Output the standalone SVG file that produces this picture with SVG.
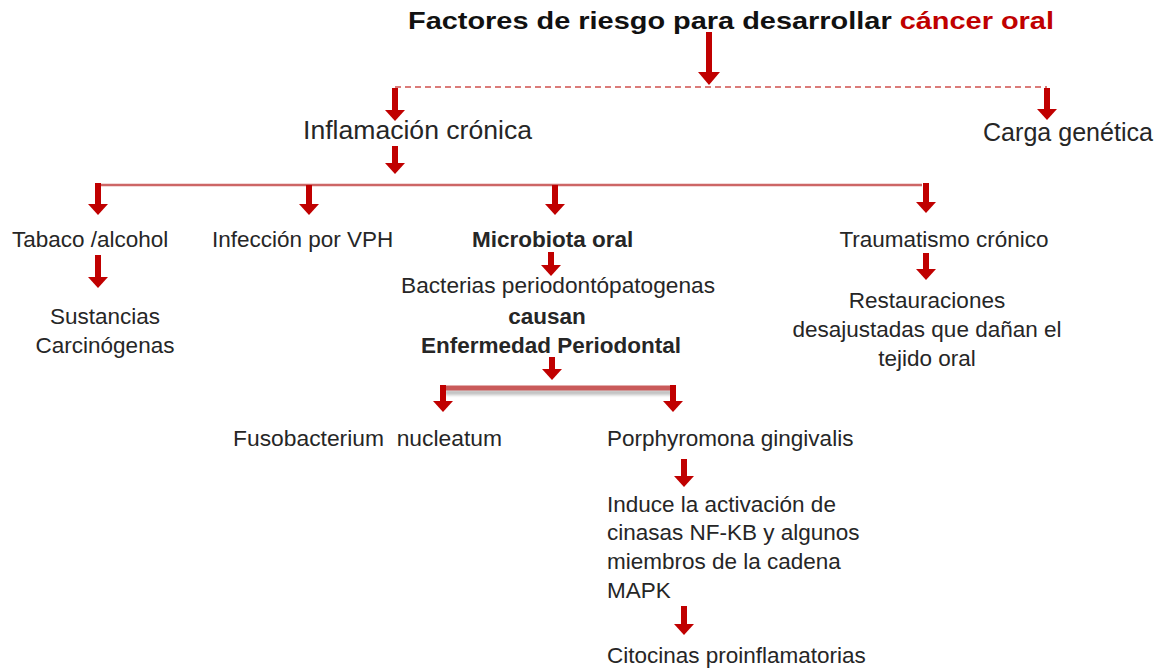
<svg xmlns="http://www.w3.org/2000/svg" width="1161" height="671" viewBox="0 0 1161 671">
<style>
.t{font-family:"Liberation Sans",Arial,sans-serif;font-size:22.5px;fill:#262626}
.b{font-weight:bold}
.big{font-size:26px}
.ttl{font-family:"Liberation Sans",Arial,sans-serif;font-size:24px;font-weight:bold;fill:#111}
.red{fill:#c00000}
.arr{stroke:#c00000;stroke-width:6;fill:none;marker-end:url(#head)}
.arrL{stroke:#c00000;stroke-width:6;fill:none;marker-end:url(#headL)}
.hl{stroke:#cd6666;stroke-width:2.5;fill:none}
.dl{stroke:#d0504d;stroke-width:1.5;stroke-dasharray:6 4;fill:none}
</style>
<defs>
<marker id="head" markerUnits="userSpaceOnUse" markerWidth="11" markerHeight="20" refX="0" refY="10" orient="auto" viewBox="0 0 11 20">
<path d="M0,0 L11,10 L0,20 z" fill="#c00000"/>
</marker>
<marker id="headL" markerUnits="userSpaceOnUse" markerWidth="13" markerHeight="22" refX="0" refY="11" orient="auto" viewBox="0 0 13 22">
<path d="M0,0 L13,11 L0,22 z" fill="#c00000"/>
</marker>
<filter id="sh" x="-5%" y="-100%" width="110%" height="400%">
<feGaussianBlur stdDeviation="1.5"/>
</filter>
</defs>

<g id="connectors">
<line class="arrL" x1="709" y1="32" x2="709" y2="72"/>
<path class="dl" d="M395,87 H1047"/>
<line class="arr" x1="395" y1="88" x2="395" y2="110"/>
<line class="arr" x1="1047" y1="88" x2="1047" y2="109"/>
<line class="arr" x1="395" y1="146" x2="395" y2="163"/>
<path class="hl" d="M97,185 H922"/>
<line class="arr" x1="98" y1="183" x2="98" y2="204"/>
<line class="arr" x1="309" y1="185" x2="309" y2="204"/>
<line class="arr" x1="555" y1="185" x2="555" y2="204"/>
<line class="arr" x1="926" y1="183" x2="926" y2="202"/>
<line class="arr" x1="98" y1="255" x2="98" y2="277"/>
<line class="arr" x1="551" y1="252" x2="551" y2="265"/>
<line class="arr" x1="926" y1="253" x2="926" y2="269"/>
<line class="arr" x1="552" y1="357" x2="552" y2="369"/>
<rect x="445" y="390" width="228" height="5" fill="#808080" opacity="0.5" filter="url(#sh)"/>
<rect x="443" y="385.5" width="232" height="5" fill="#c95a5a"/>
<line class="arr" x1="443" y1="385" x2="443" y2="401"/>
<line class="arr" x1="673" y1="385" x2="673" y2="401"/>
<line class="arr" x1="684" y1="459" x2="684" y2="476"/>
<line class="arr" x1="684" y1="606" x2="684" y2="624"/>
</g>

<g id="title">
<text class="ttl" x="408" y="29" textLength="646" lengthAdjust="spacingAndGlyphs">Factores de riesgo para desarrollar <tspan class="red">cáncer oral</tspan></text>
</g>
<g id="inflamacion">
<text class="t big" x="303" y="139" textLength="229" lengthAdjust="spacingAndGlyphs">Inflamación crónica</text>
</g>
<g id="carga">
<text class="t big" x="983" y="141" textLength="170" lengthAdjust="spacingAndGlyphs">Carga genética</text>
</g>
<g id="tabaco">
<text class="t" x="12" y="247">Tabaco /alcohol</text>
</g>
<g id="sustancias">
<text class="t" x="105" y="324" text-anchor="middle">Sustancias</text>
<text class="t" x="105" y="353" text-anchor="middle">Carcinógenas</text>
</g>
<g id="vph">
<text class="t" x="212" y="247">Infección por VPH</text>
</g>
<g id="microbiota">
<text class="t b" x="472" y="247">Microbiota oral</text>
</g>
<g id="bacterias">
<text class="t" x="401" y="293" textLength="314" lengthAdjust="spacingAndGlyphs">Bacterias periodontópatogenas</text>
<text class="t b" x="547" y="324" text-anchor="middle">causan</text>
<text class="t b" x="551" y="353" text-anchor="middle">Enfermedad Periodontal</text>
</g>
<g id="traumatismo">
<text class="t" x="944" y="247" text-anchor="middle">Traumatismo crónico</text>
</g>
<g id="restauraciones">
<text class="t" x="927" y="308" text-anchor="middle">Restauraciones</text>
<text class="t" x="927" y="337" text-anchor="middle">desajustadas que dañan el</text>
<text class="t" x="927" y="366" text-anchor="middle">tejido oral</text>
</g>
<g id="fusobacterium">
<text class="t" x="233" y="446" textLength="269" lengthAdjust="spacingAndGlyphs" xml:space="preserve">Fusobacterium  nucleatum</text>
</g>
<g id="porphyromona">
<text class="t" x="607" y="446">Porphyromona gingivalis</text>
</g>
<g id="induce">
<text class="t" x="607" y="512">Induce la activación de</text>
<text class="t" x="607" y="540">cinasas NF-KB y algunos</text>
<text class="t" x="607" y="569">miembros de la cadena</text>
<text class="t" x="607" y="598">MAPK</text>
</g>
<g id="citocinas">
<text class="t" x="607" y="663">Citocinas proinflamatorias</text>
</g>
</svg>
